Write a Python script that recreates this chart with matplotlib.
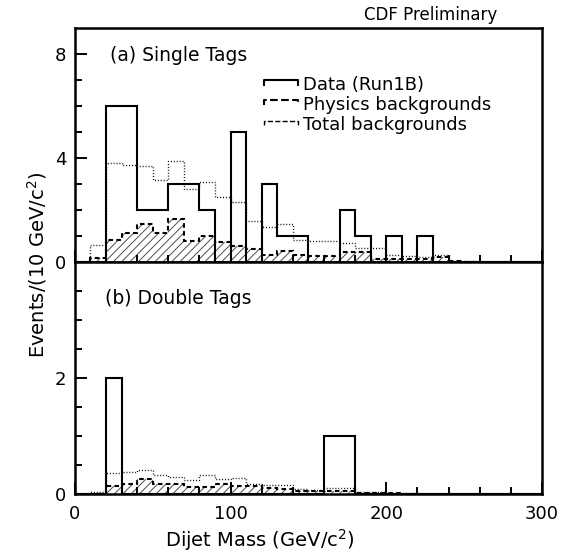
#!/usr/bin/env python3
# -*- coding: utf-8 -*-

'''
CDF dijet mass, single and double tags
'''

import numpy as np
import matplotlib
matplotlib.use('Agg')
from matplotlib import pyplot as plt
from matplotlib.lines import Line2D
from matplotlib.legend_handler import HandlerBase

# 10 GeV bins from 0 to 300
edges = np.arange(0, 310, 10)

# (a) single tags
single_data = [0, 0, 6, 6, 2, 2, 3, 3, 2, 0, 5, 0, 3, 1, 1,
               0, 0, 2, 1, 0, 1, 0, 1, 0, 0, 0, 0, 0, 0, 0]
single_total = [0, 0.65, 3.8, 3.75, 3.7, 3.15, 3.9, 2.8, 3.1, 2.5, 2.3, 1.57, 1.37, 1.45, 0.86,
                0.82, 0.8, 0.73, 0.56, 0.54, 0.27, 0.23, 0.2, 0.27, 0.05, 0.05, 0.02, 0, 0, 0]
single_phys = [0, 0.18, 0.86, 1.14, 1.48, 1.14, 1.66, 0.82, 1.01, 0.79, 0.64, 0.5, 0.28, 0.43, 0.28,
               0.23, 0.23, 0.38, 0.4, 0.14, 0.12, 0.12, 0.12, 0.2, 0.03, 0.02, 0, 0, 0, 0]

# (b) double tags
double_data = [0, 0, 2, 0, 0, 0, 0, 0, 0, 0, 0, 0, 0, 0, 0,
               0, 1, 1, 0, 0, 0, 0, 0, 0, 0, 0, 0, 0, 0, 0]
double_total = [0, 0.04, 0.37, 0.38, 0.42, 0.33, 0.3, 0.24, 0.33, 0.26, 0.28, 0.18, 0.15, 0.16, 0.09,
                0.07, 0.1, 0.1, 0.03, 0.03, 0.02, 0.01, 0, 0, 0, 0, 0, 0, 0, 0]
double_phys = [0, 0, 0.14, 0.18, 0.26, 0.18, 0.17, 0.13, 0.12, 0.18, 0.14, 0.14, 0.1, 0.09, 0.06,
               0.05, 0.06, 0.06, 0.02, 0.02, 0.01, 0, 0, 0, 0, 0, 0, 0, 0, 0]

plt.rcParams['font.family'] = ['DejaVu Sans']
plt.rcParams['hatch.linewidth'] = 0.7

dash_style = (0, (2.2, 1.6))
dot_style = (0, (0.7, 1.4))


class StepHandler(HandlerBase):
    # legend sample drawn like a little histogram bin
    def create_artists(self, legend, orig_handle, xdescent, ydescent,
                       width, height, fontsize, trans):
        y = height * 0.75
        d = height * 0.35
        line = Line2D([0, 0, width, width], [y - d, y, y, y - d],
                      color='black', lw=orig_handle.get_linewidth(),
                      linestyle=orig_handle.get_linestyle(), transform=trans)
        return [line]


def draw_panel(ax, data, phys, total):
    ax.stairs(phys, edges, fill=True, facecolor='none', edgecolor='0.3',
              hatch='////', linewidth=0)
    ax.stairs(phys, edges, color='black', lw=1.5, linestyle=dash_style)
    ax.stairs(total, edges, color='black', lw=1.0, linestyle=dot_style)
    ax.stairs(data, edges, color='black', lw=1.5)
    ax.set_xlim(0, 300)
    for s in ax.spines.values():
        s.set_linewidth(1.8)
    ax.tick_params(which='both', direction='in', width=1.4, labelsize=13,
                   right=False, top=False)
    ax.tick_params(which='major', length=8.5, pad=6)
    ax.tick_params(which='minor', length=5)
    ax.set_xticks([0, 100, 200, 300])
    ax.set_xticks(np.arange(0, 301, 20), minor=True)


fig = plt.figure(figsize=(5.76, 5.52), dpi=100)
ax1 = fig.add_axes([0.130, 0.525, 0.811, 0.424])
ax2 = fig.add_axes([0.130, 0.105, 0.811, 0.420])

draw_panel(ax1, single_data, single_phys, single_total)
ax1.set_ylim(0, 9)
ax1.set_yticks([0, 4, 8])
ax1.set_yticks(np.arange(0, 9, 1), minor=True)
ax1.tick_params(axis='x', labelbottom=False)

draw_panel(ax2, double_data, double_phys, double_total)
ax2.set_ylim(0, 4)
ax2.set_yticks([0, 2])
ax2.set_yticks(np.arange(0, 4, 0.5), minor=True)
ax2.tick_params(axis='x', pad=8)

ax1.text(0.075, 0.885, '(a) Single Tags', transform=ax1.transAxes,
         fontsize=13.5, va='center', ha='left')
ax2.text(0.065, 0.845, '(b) Double Tags', transform=ax2.transAxes,
         fontsize=13.5, va='center', ha='left')

handles = [Line2D([], [], color='black', lw=1.5),
           Line2D([], [], color='black', lw=1.5, linestyle=dash_style),
           Line2D([], [], color='black', lw=1.0, linestyle=dot_style)]
labels = ['Data (Run1B)', 'Physics backgrounds', 'Total backgrounds']
ax1.legend(handles, labels, loc='upper left', bbox_to_anchor=(0.385, 0.835),
           frameon=False, fontsize=13, handlelength=1.9, handletextpad=0.3,
           labelspacing=0.12, borderpad=0,
           handler_map={Line2D: StepHandler()})

fig.text(0.748, 0.972, 'CDF Preliminary', fontsize=12, ha='center', va='center')
fig.text(0.064, 0.52, 'Events/(10 GeV/c$^2$)', rotation=90, fontsize=14,
         ha='center', va='center')
fig.text(0.451, 0.046, 'Dijet Mass (GeV/c$^2$)', fontsize=14,
         ha='center', va='top')

fig.savefig('out.png', dpi=100)
